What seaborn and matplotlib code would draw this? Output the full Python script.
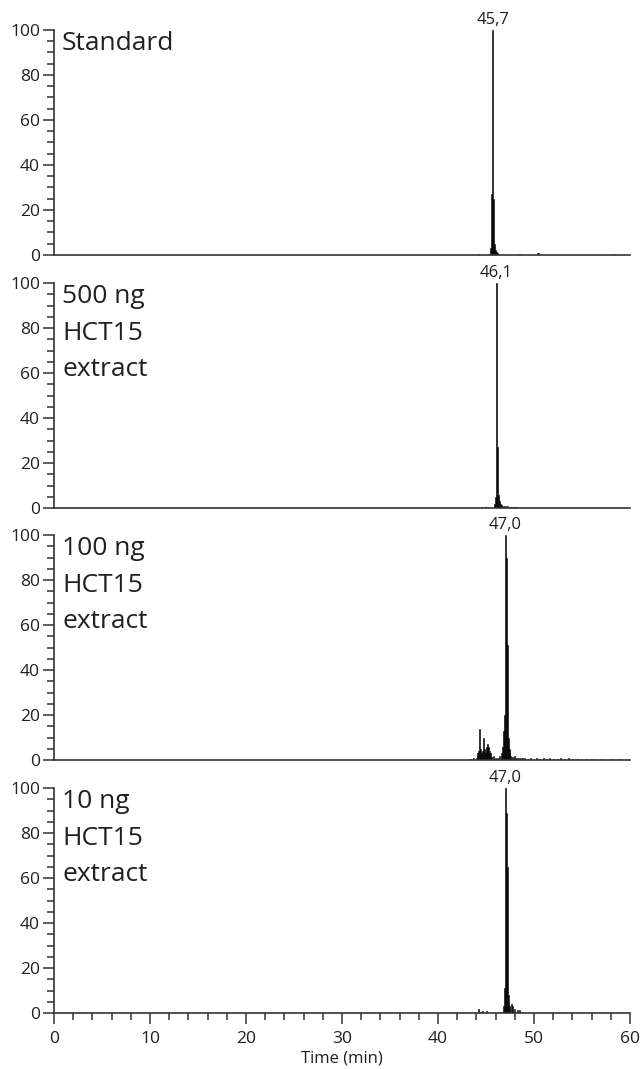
import numpy as np
import pandas as pd
import matplotlib
matplotlib.use("Agg")
import matplotlib.pyplot as plt
import seaborn as sns
from matplotlib.ticker import MultipleLocator

sns.set_style("ticks")
plt.rcParams['font.family'] = ['Open Sans', 'DejaVu Sans']

# ---- data ----
panel_labels = ["Standard", "500 ng\nHCT15\nextract", "100 ng\nHCT15\nextract", "10 ng\nHCT15\nextract"]
peak_labels = ["45,7", "46,1", "47,0", "47,0"]
peak_times = [45.7, 46.1, 47.0, 47.0]

times_std = [44.2, 45.5, 45.6, 45.7, 45.8, 45.9, 46.0, 46.1, 46.2, 48.5, 50.4, 50.5, 58.3]
inten_std = [0.6, 3, 27, 100, 25, 5, 2, 1.5, 1, 0.6, 1, 1, 0.6]

times_500 = [44.5, 44.8, 45.0, 45.9, 46.0, 46.1, 46.2, 46.3, 46.4, 46.5, 46.6, 46.8,
             47.0, 47.2, 47.4, 47.6, 47.8, 48.0, 48.2]
inten_500 = [0.5, 0.5, 0.8, 2, 5, 100, 27, 6, 3, 2, 1.5, 1,
             1, 0.8, 0.5, 0.6, 0.5, 0.5, 0.6]

times_100 = [43.4, 43.7, 44.0, 44.1, 44.2, 44.3, 44.4, 44.5, 44.6, 44.7, 44.8, 44.9,
             45.0, 45.1, 45.2, 45.3, 45.4, 45.5, 45.6, 45.8, 46.0, 46.2, 46.4, 46.6,
             46.7, 46.8, 46.9, 47.0, 47.1, 47.2, 47.3, 47.4, 47.5, 47.6, 47.8, 48.0,
             48.2, 48.4, 48.6, 48.8, 49.0, 49.3, 49.6, 50.0, 50.3, 50.6, 51.0, 51.3,
             51.6, 52.0, 52.4, 52.8, 53.2, 53.6, 54.0, 54.5, 55.0, 55.5, 56.0, 57.0,
             58.0, 59.0]
inten_100 = [0.5, 0.8, 1, 3, 4, 14, 5, 3, 4, 10, 5, 3,
             4, 6, 7, 6, 4, 3, 1.5, 2, 1, 1, 2, 3,
             6, 13, 20, 100, 90, 51, 10, 5, 3, 2, 1.5, 2,
             1, 1, 1, 0.8, 1, 0.6, 0.8, 0.5, 0.8, 0.6, 0.7, 0.5,
             0.8, 0.6, 0.6, 1, 0.5, 0.7, 0.5, 0.6, 0.5, 0.4, 0.6, 0.4,
             0.5, 0.4]

times_10 = [44.2, 44.4, 44.6, 45.1, 46.5, 46.8, 46.9, 47.0, 47.1, 47.2, 47.3, 47.4,
            47.5, 47.7, 47.8, 48.0, 48.3, 48.5]
inten_10 = [2, 0.5, 1, 0.8, 0.5, 3, 11, 100, 89, 65, 8, 3,
            2, 4, 3, 2, 1.5, 1.5]

series = [(times_std, inten_std), (times_500, inten_500),
          (times_100, inten_100), (times_10, inten_10)]

# ---- figure ----
W, H = 642, 1069
fig = plt.figure(figsize=(W / 100, H / 100), dpi=100)
left = 54 / W
width = (630 - 54) / W
tops = [30, 283, 535, 788]
ph = 225
ink = "#231f20"

axes = []
for i, (t, v) in enumerate(series):
    top = tops[i]
    ax = fig.add_axes([left, 1 - (top + ph) / H, width, ph / H])
    df = pd.DataFrame({"time": t, "intensity": v})
    sns.histplot(data=df, x="time", weights="intensity", binwidth=0.1,
                 binrange=(-0.05, 60.05), ax=ax,
                 color="black", edgecolor="black", linewidth=0.4, alpha=1)
    ax.set_xlim(0, 60)
    ax.set_ylim(0, 100)
    ax.set_ylabel("")
    ax.set_xlabel("")
    for s in ["top", "right"]:
        ax.spines[s].set_visible(False)
    for s in ["left", "bottom"]:
        ax.spines[s].set_linewidth(1.2)
        ax.spines[s].set_color("#333333")
    ax.yaxis.set_major_locator(MultipleLocator(20))
    ax.yaxis.set_minor_locator(MultipleLocator(5))
    ax.tick_params(axis="y", which="major", length=8, width=1.1, color="#333333",
                   labelsize=12.5, labelcolor=ink, pad=2)
    ax.tick_params(axis="y", which="minor", length=5, width=1.1, color="#333333")
    if i < 3:
        ax.tick_params(axis="x", which="both", bottom=False, labelbottom=False)
    else:
        ax.xaxis.set_major_locator(MultipleLocator(10))
        ax.xaxis.set_minor_locator(MultipleLocator(2))
        ax.tick_params(axis="x", which="major", length=8, width=1.1, color="#333333",
                       labelsize=12.5, labelcolor=ink, pad=5)
        ax.tick_params(axis="x", which="minor", length=5, width=1.1, color="#333333")
        ax.set_xlabel("Time (min)", fontsize=12, color=ink, labelpad=2.5)
    ax.text(0.014, 0.995, panel_labels[i], transform=ax.transAxes, ha="left", va="top",
            fontsize=19, linespacing=1.6, color=ink)
    ax.text(peak_times[i], 101, peak_labels[i], ha="center", va="bottom",
            fontsize=12, color=ink, clip_on=False)
    axes.append(ax)

fig.savefig("out.png", dpi=100)
